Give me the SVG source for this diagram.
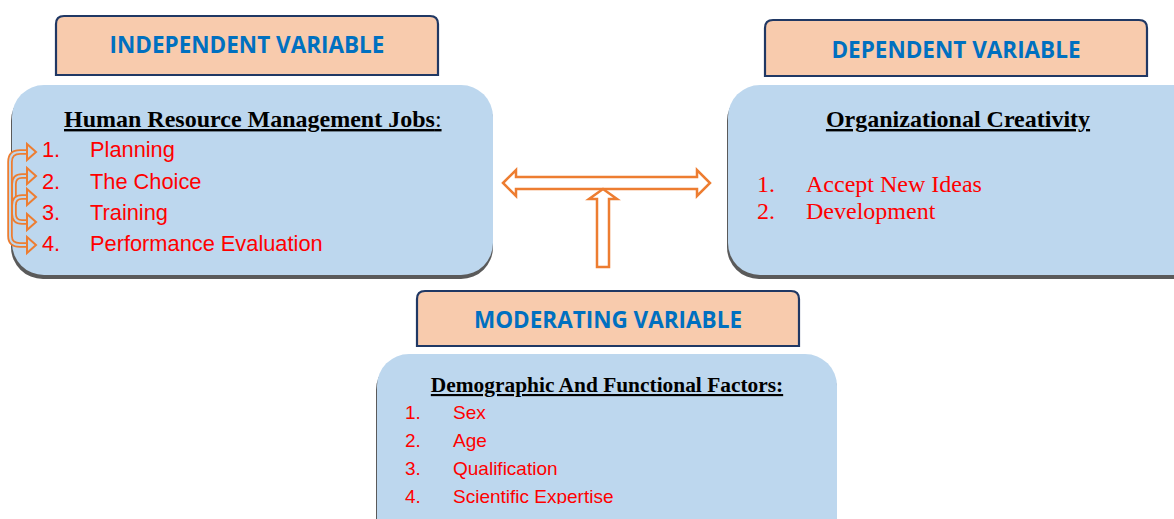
<svg xmlns="http://www.w3.org/2000/svg" width="1174" height="519" viewBox="0 0 1174 519">
  <defs>
    <style>
      .hdr { fill: #f8cbad; stroke: #203864; stroke-width: 2.2; }
      .hdr-text { font-family: "Open Sans", "Liberation Sans", sans-serif; font-weight: bold; font-size: 22.5px; fill: #0070c0; text-anchor: middle; }
      .body { fill: #bdd7ee; }
      .shadow { fill: #5a5a5a; }
      .title { font-family: "Liberation Serif", serif; font-weight: bold; font-size: 24px; fill: #000; text-decoration: underline; }
      .item-sans { font-family: "Liberation Sans", sans-serif; font-size: 21.8px; fill: #ff0000; }
      .item-serif { font-family: "Liberation Serif", serif; font-size: 24px; fill: #ff0000; }
      .item-small { font-family: "Liberation Sans", sans-serif; font-size: 19px; fill: #ff0000; }
      .block-arrow { fill: #ffffff; stroke: #ed7d31; stroke-width: 2.5; stroke-linejoin: miter; }
      .loop-out { fill: none; stroke: #ed7d31; stroke-width: 5.5; }
      .loop-in { fill: none; stroke: #bdd7ee; stroke-width: 2; }
      .loop-head { fill: #bdd7ee; stroke: #ed7d31; stroke-width: 2; stroke-linejoin: miter; }
    </style>
    <clipPath id="modClip">
      <rect x="370" y="350" width="480" height="154"/>
    </clipPath>
  </defs>

  <rect width="1174" height="519" fill="#ffffff"/>

  <!-- Independent variable -->
  <g id="independent-header">
    <path class="hdr" d="M56,75 V24 Q56,16 64,16 H430 Q438,16 438,24 V75 Z"/>
    <text class="hdr-text" x="247" y="53">INDEPENDENT VARIABLE</text>
  </g>
  <g id="independent-body">
    <rect class="shadow" x="11" y="89" width="482" height="190" rx="32"/>
    <rect class="body" x="12" y="85" width="481" height="190" rx="32"/>
    <text class="title" x="64" y="127"><tspan>Human Resource Management Jobs</tspan><tspan style="text-decoration:none;font-weight:normal">:</tspan></text>
    <text class="item-sans" x="42" y="157">1.</text>
    <text class="item-sans" x="90" y="157">Planning</text>
    <text class="item-sans" x="42" y="189">2.</text>
    <text class="item-sans" x="90" y="189">The Choice</text>
    <text class="item-sans" x="42" y="220">3.</text>
    <text class="item-sans" x="90" y="220">Training</text>
    <text class="item-sans" x="42" y="251">4.</text>
    <text class="item-sans" x="90" y="251">Performance Evaluation</text>
  </g>

  <!-- Dependent variable -->
  <g id="dependent-header">
    <path class="hdr" d="M765,76 V28 Q765,20 773,20 H1139 Q1147,20 1147,28 V76 Z"/>
    <text class="hdr-text" x="956" y="58">DEPENDENT VARIABLE</text>
  </g>
  <g id="dependent-body">
    <rect class="shadow" x="727" y="89" width="480" height="190" rx="32"/>
    <rect class="body" x="728" y="85" width="480" height="190" rx="32"/>
    <text class="title" x="958" y="127" text-anchor="middle">Organizational Creativity</text>
    <text class="item-serif" x="757" y="192">1.</text>
    <text class="item-serif" x="806" y="192">Accept New Ideas</text>
    <text class="item-serif" x="757" y="219">2.</text>
    <text class="item-serif" x="806" y="219">Development</text>
  </g>

  <!-- Moderating variable -->
  <g id="moderating-header">
    <path class="hdr" d="M417,346 V299 Q417,291 425,291 H791 Q799,291 799,299 V346 Z"/>
    <text class="hdr-text" x="608" y="328">MODERATING VARIABLE</text>
  </g>
  <g id="moderating-body">
    <rect class="shadow" x="376" y="358" width="461" height="200" rx="32"/>
    <rect class="body" x="377" y="354" width="460" height="200" rx="32"/>
    <text class="title" x="607" y="392" text-anchor="middle" style="font-size:21.4px">Demographic And Functional Factors:</text>
    <g clip-path="url(#modClip)">
      <text class="item-small" x="405" y="419">1.</text>
      <text class="item-small" x="453" y="419">Sex</text>
      <text class="item-small" x="405" y="447">2.</text>
      <text class="item-small" x="453" y="447">Age</text>
      <text class="item-small" x="405" y="475">3.</text>
      <text class="item-small" x="453" y="475">Qualification</text>
      <text class="item-small" x="405" y="503">4.</text>
      <text class="item-small" x="453" y="503">Scientific Expertise</text>
    </g>
  </g>

  <!-- Connectors -->
  <g id="connectors">
    <!-- two-way arrow between independent and dependent -->
    <path class="block-arrow" d="M503,183 L516,170 L516,177 L697,177 L697,170 L710,183 L697,196 L697,189 L516,189 L516,196 Z"/>
    <!-- moderating arrow pointing up into the two-way arrow -->
    <path class="block-arrow" d="M603,189 L617,199 L609,199 L609,267 L597,267 L597,199 L589,199 Z"/>
    <!-- looping arrows linking the listed jobs -->
    <path class="loop-out" d="M28,152 H20 Q10,152 10,162 V236 Q10,245 20,245 H28"/>
    <path class="loop-in" d="M28,152 H20 Q10,152 10,162 V236 Q10,245 20,245 H28"/>
    <path class="loop-out" d="M28,176 H22 Q14,176 14,184 V214 Q14,222 22,222 H28"/>
    <path class="loop-in" d="M28,176 H22 Q14,176 14,184 V214 Q14,222 22,222 H28"/>
    <path class="loop-out" d="M28,197 H22 Q14,197 14,205"/>
    <path class="loop-in" d="M28,197 H22 Q14,197 14,205"/>
    <path class="loop-head" d="M36,152 L27,144 V160 Z"/>
    <path class="loop-head" d="M36,176 L27,168 V184 Z"/>
    <path class="loop-head" d="M36,197 L27,189 V205 Z"/>
    <path class="loop-head" d="M36,222 L27,214 V230 Z"/>
    <path class="loop-head" d="M36,245 L27,237 V253 Z"/>
  </g>
</svg>
